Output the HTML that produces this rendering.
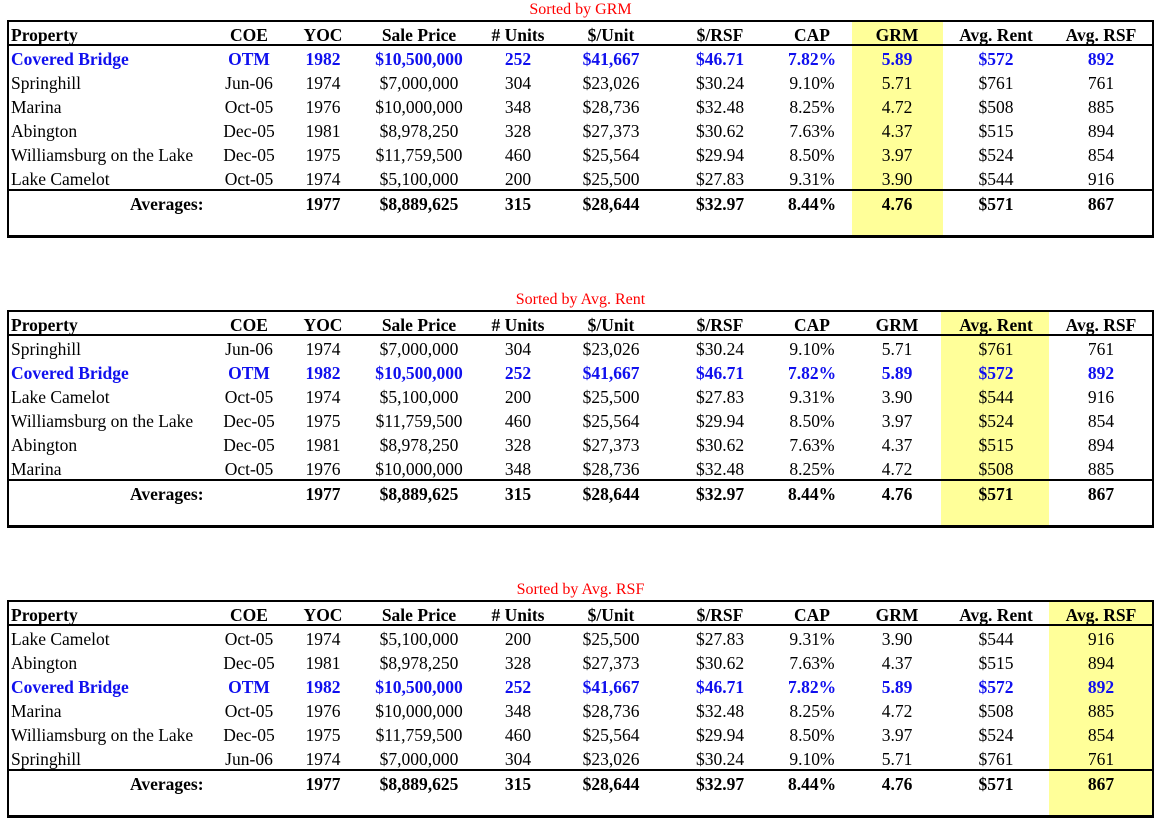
<!DOCTYPE html>
<html><head><meta charset="utf-8">
<style>
body{margin:0;width:1161px;height:824px;background:#fff;position:relative;overflow:hidden;font-family:"Liberation Serif",serif;font-size:17.5px;color:#000}
.t{position:absolute;left:7px;width:1147px;height:218px;border:2px solid #000;border-bottom:3px solid #000;box-sizing:border-box}
.title{position:absolute;left:0;width:1161px;text-align:center;color:#f00;font-size:16px;line-height:18px}
.c{position:absolute;line-height:24px;height:24px;white-space:nowrap;transform:translateX(-50%)}
.l{position:absolute;line-height:24px;height:24px;white-space:nowrap}
.hl{position:absolute;height:2px;background:#000;left:7px;width:1147px}
.y{position:absolute;background:#ffff99}
.b{font-weight:bold}
.blue{color:#1010ee;font-weight:bold}
</style></head><body>
<script>
const cols=['COE','YOC','Sale Price','# Units','$/Unit','$/RSF','CAP','GRM','Avg. Rent','Avg. RSF'];
const colX=[249,323,419,518,611,720,812,897,996,1101];
const props={
 'Covered Bridge':['OTM','1982','$10,500,000','252','$41,667','$46.71','7.82%','5.89','$572','892'],
 'Springhill':['Jun-06','1974','$7,000,000','304','$23,026','$30.24','9.10%','5.71','$761','761'],
 'Marina':['Oct-05','1976','$10,000,000','348','$28,736','$32.48','8.25%','4.72','$508','885'],
 'Abington':['Dec-05','1981','$8,978,250','328','$27,373','$30.62','7.63%','4.37','$515','894'],
 'Williamsburg on the Lake':['Dec-05','1975','$11,759,500','460','$25,564','$29.94','8.50%','3.97','$524','854'],
 'Lake Camelot':['Oct-05','1974','$5,100,000','200','$25,500','$27.83','9.31%','3.90','$544','916']};
const avgs=['','1977','$8,889,625','315','$28,644','$32.97','8.44%','4.76','$571','867'];
const tables=[
 {title:'Sorted by GRM',hl:7,yl:852,yw:91,order:['Covered Bridge','Springhill','Marina','Abington','Williamsburg on the Lake','Lake Camelot']},
 {title:'Sorted by Avg. Rent',hl:8,yl:941,yw:108,order:['Springhill','Covered Bridge','Lake Camelot','Williamsburg on the Lake','Abington','Marina']},
 {title:'Sorted by Avg. RSF',hl:9,yl:1049,yw:103,order:['Lake Camelot','Abington','Covered Bridge','Marina','Williamsburg on the Lake','Springhill']}];
function add(cls,txt,style,name){const d=document.createElement('div');d.className=cls;if(txt!=null)d.textContent=txt;Object.assign(d.style,style);


document.body.appendChild(d);return d;}
tables.forEach((t,ti)=>{
 const o=ti*290;
 add('title',t.title,{top:(o+1)+'px'},'table-title');
 add('y',null,{left:t.yl+'px',width:t.yw+'px',top:(o+20)+'px',height:'218px'},'highlight-column');
 add('t',null,{top:(o+20)+'px'},'table-border');
 add('hl',null,{top:(o+44)+'px'},'header-rule');
 add('hl',null,{top:(o+189)+'px'},'averages-rule');
 add('l b','Property',{left:'11px',top:(o+23)+'px'},'header-property');
 cols.forEach((c,i)=>add('c b',c,{left:colX[i]+'px',top:(o+23)+'px'},'header-'+c.toLowerCase().replace(/[^a-z]+/g,'-')));
 t.order.forEach((p,r)=>{
  const top=o+47+24*r, blue=p==='Covered Bridge';
  add('l'+(blue?' blue':''),p,{left:'11px',top:top+'px'},'row-label');
  props[p].forEach((v,i)=>add('c'+(blue?' blue':''),v,{left:colX[i]+'px',top:top+'px'},'cell'));
 });
 add('l b','Averages:',{left:'130px',top:(o+192)+'px'},'averages-label');
 avgs.forEach((v,i)=>{if(v)add('c b',v,{left:colX[i]+'px',top:(o+192)+'px'},'average-cell');});
});
</script>
</body></html>
